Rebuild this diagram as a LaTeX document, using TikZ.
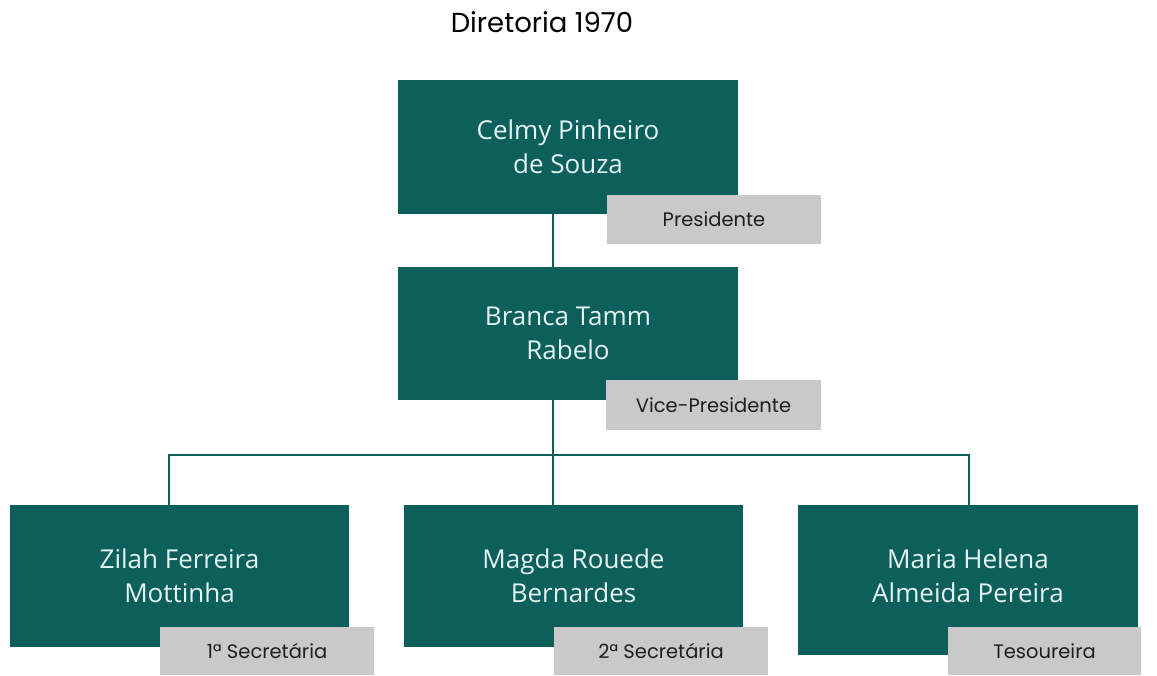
\documentclass[tikz,border=0pt]{standalone}
\usepackage{fontspec}
\setmainfont{Open Sans}
\newfontfamily\labelfont{Poppins}
\definecolor{teal1}{HTML}{0D5F5B}
\definecolor{gray1}{HTML}{C9C9C9}
\definecolor{nametxt}{HTML}{E6F4F1}
\definecolor{roletxt}{HTML}{1E1E1E}
\begin{document}
\begin{tikzpicture}[x=1pt,y=-1pt,
  person/.style={fill=teal1,draw=none,inner sep=0pt,text=nametxt,align=center,
    font=\fontsize{26}{34}\selectfont},
  role/.style={fill=gray1,draw=none,inner sep=0pt,text=roletxt,
    font=\labelfont\fontsize{19.5}{22}\selectfont},
  link/.style={draw=teal1,line width=2.6pt}]
\useasboundingbox (0,0) rectangle (1157,675);
\node[font=\labelfont\fontsize{27.5}{30}\selectfont] (title) at (542,22) {Diretoria 1970};
% boxes
\node[person,minimum width=340,minimum height=134] (p1) at (568,147) {Celmy Pinheiro\\de Souza};
\node[person,minimum width=340,minimum height=133] (p2) at (568,333.5) {Branca Tamm\\Rabelo};
\node[person,minimum width=339,minimum height=142] (p3) at (179.5,576) {Zilah Ferreira\\Mottinha};
\node[person,minimum width=339,minimum height=142] (p4) at (573.5,576) {Magda Rouede\\Bernardes};
\node[person,minimum width=340,minimum height=142] (p5) at (968,576) {Maria Helena\\Almeida Pereira};
\fill[teal1] (p5.south west) rectangle ++(340,8);
% role labels
\node[role,minimum width=214,minimum height=49] (r1) at (714,219.5) {Presidente};
\node[role,minimum width=215,minimum height=50] (r2) at (713.5,405) {Vice-Presidente};
\node[role,minimum width=214,minimum height=48] (r3) at (267,651) {1ª Secretária};
\node[role,minimum width=214,minimum height=48] (r4) at (661,651) {2ª Secretária};
\node[role,minimum width=193,minimum height=48] (r5) at (1044.5,651) {Tesoureira};
% connectors
\coordinate (hub) at (553,455);
\draw[link] (p1.south -| hub) -- (p2.north -| hub);
\draw[link] (p2.south -| hub) -- (hub);
\draw[link] (p3.north -| 169,0) -- (169,455) -- (969,455) -- (p5.north -| 969,0);
\draw[link] (hub) -- (p4.north -| hub);
\end{tikzpicture}
\end{document}
